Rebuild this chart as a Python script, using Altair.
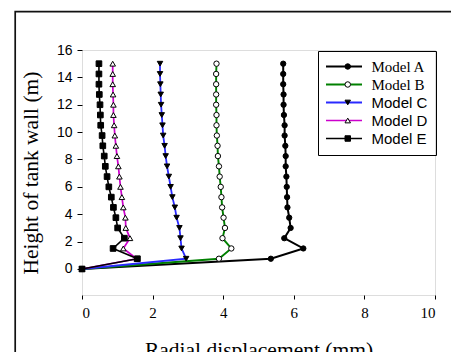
import altair as alt
import pandas as pd

heights = [0, 0.75, 1.5, 2.25, 3.0, 3.75, 4.5, 5.25, 6.0, 6.75, 7.5,
           8.25, 9.0, 9.75, 10.5, 11.25, 12.0, 12.75, 13.5, 14.25, 15.0]
models = ["Model A", "Model B", "Model C", "Model D", "Model E"]
model_a = [0, 5.35, 6.27, 5.73, 5.91, 5.87, 5.82, 5.81, 5.80, 5.79, 5.77,
           5.77, 5.76, 5.74, 5.74, 5.72, 5.71, 5.71, 5.70, 5.70, 5.70]
model_b = [0, 3.88, 4.23, 3.98, 4.05, 4.01, 3.97, 3.95, 3.93, 3.90, 3.88,
           3.85, 3.84, 3.82, 3.81, 3.81, 3.80, 3.80, 3.80, 3.80, 3.81]
model_c = [0, 2.95, 2.82, 2.79, 2.76, 2.68, 2.63, 2.56, 2.51, 2.46, 2.41,
           2.37, 2.34, 2.30, 2.28, 2.26, 2.24, 2.23, 2.22, 2.21, 2.21]
model_d = [0, 1.55, 1.17, 1.36, 1.24, 1.23, 1.17, 1.13, 1.09, 1.06, 1.03,
           0.99, 0.96, 0.93, 0.91, 0.89, 0.89, 0.88, 0.87, 0.87, 0.87]
model_e = [0, 1.57, 0.88, 1.20, 1.01, 0.96, 0.89, 0.83, 0.76, 0.71, 0.66,
           0.63, 0.59, 0.57, 0.53, 0.52, 0.51, 0.49, 0.48, 0.48, 0.48]

x_ticks = [0, 2, 4, 6, 8, 10]
y_ticks = [0, 2, 4, 6, 8, 10, 12, 14, 16]

line_colors = ["#000000", "#008000", "#2a2aff", "#cc00cc", "#000000"]
line_widths = [2, 1.6, 1, 2, 2]
marker_shapes = ["circle", "circle", "triangle-down", "triangle-up", "square"]
marker_fills = ["#000000", "#ffffff", "#000000", "#ffffff", "#000000"]
marker_strokes = ["#000000"] * 5
marker_sizes = [28, 32, 55, 45, 40]

rows = []
for name, vals in zip(models, [model_a, model_b, model_c, model_d, model_e]):
    for h, v in zip(heights, vals):
        rows.append({"Model": name, "series": name, "h": h, "d": v})
df = pd.DataFrame(rows)

SERIF = "Liberation Serif"
SANS = "Liberation Sans"

x_enc = alt.X("d:Q", scale=alt.Scale(domain=[0, 10], nice=False, zero=False),
              axis=alt.Axis(values=x_ticks, grid=False, domain=False,
                            tickSize=4, tickColor="black", labelFont=SERIF,
                            labelFontSize=15, labelColor="black", labelPadding=6,
                            labelOverlap=False,
                            title="Radial displacement (mm)", titleFont=SERIF,
                            titleFontSize=21.5, titleFontWeight="normal",
                            titleColor="black", titleBaseline="alphabetic",
                            titleY=61))
y_enc = alt.Y("h:Q", scale=alt.Scale(domain=[-1.9, 16], nice=False, zero=False),
              axis=alt.Axis(values=y_ticks, grid=False,
                            domain=False, tickSize=5, tickColor="black",
                            labelFont=SANS, labelFontSize=14, labelColor="black",
                            labelPadding=5, labelOverlap=False,
                            title="Height of tank wall (m)",
                            titleFont=SERIF, titleFontSize=21.5,
                            titleFontWeight="normal", titleColor="black",
                            titleBaseline="alphabetic", titleX=-44.5))

line_legend = alt.Legend(orient="none", legendX=236, legendY=1,
                         title=None, symbolType="M-3,0H3",
                         symbolSize=144,
                         symbolOffset=10.5, labelOffset=20,
                         labelFontSize=15, labelColor="black",
                         labelFont=alt.ExprRef(
                             "datum.label == 'Model A' || datum.label == 'Model B' ? 'Liberation Serif' : 'Liberation Sans'"),
                         strokeColor="black", padding=8,
                         rowPadding=2, fillColor="transparent")

lines = alt.Chart(df).mark_line().encode(
    x=x_enc,
    y=y_enc,
    order=alt.Order("h:Q"),
    color=alt.Color("series:N", scale=alt.Scale(domain=models, range=line_colors),
                    legend=line_legend),
    strokeWidth=alt.StrokeWidth("series:N", scale=alt.Scale(domain=models, range=line_widths),
                                legend=line_legend),
)

shape_legend = alt.Legend(orient="none", legendX=236, legendY=1, title=None,
                          symbolSize=30, symbolStrokeWidth=1,
                          symbolOffset=14.25, labelExpr="' '",
                          labelFontSize=15, padding=8, rowPadding=2)

points = alt.Chart(df).mark_point(filled=True, strokeWidth=1, opacity=1).encode(
    x=x_enc,
    y=y_enc,
    shape=alt.Shape("Model:N", scale=alt.Scale(domain=models, range=marker_shapes),
                    legend=shape_legend),
    fill=alt.Fill("Model:N", scale=alt.Scale(domain=models, range=marker_fills),
                  legend=shape_legend),
    stroke=alt.Stroke("Model:N", scale=alt.Scale(domain=models, range=marker_strokes),
                      legend=shape_legend),
    size=alt.Size("Model:N", scale=alt.Scale(domain=models, range=marker_sizes),
                  legend=None),
)

frame = alt.Chart(pd.DataFrame({"k": [0]})).mark_rect(
    fill="transparent", stroke="#111111", strokeWidth=1.7
).encode(x=alt.value(-66.8), x2=alt.value(420), y=alt.value(-38.3), y2=alt.value(340))

chart = alt.layer(frame, lines, points).resolve_scale(
    color="independent", shape="independent", fill="independent",
    stroke="independent", strokeWidth="independent"
).properties(
    width=353, height=245, autosize="none",
    padding={"left": 74, "top": 42, "right": 16, "bottom": 57},
).configure_view(stroke="black", strokeWidth=1).configure(background="white")

chart.save("out.html", embed_options={"renderer": "svg", "actions": False})
